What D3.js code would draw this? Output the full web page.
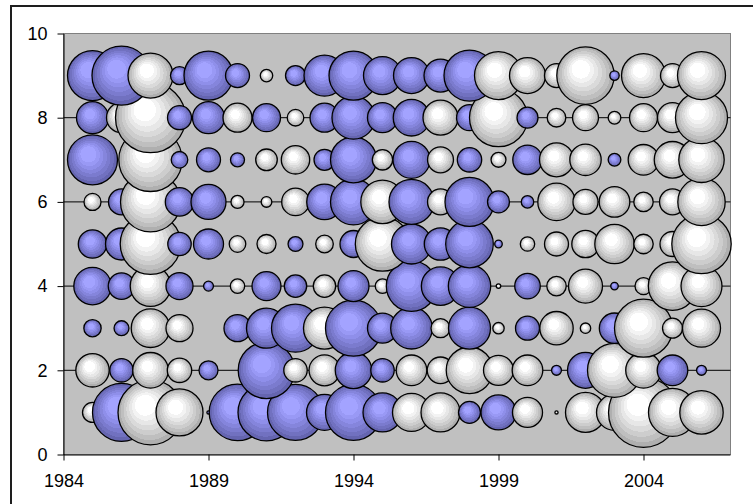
<!DOCTYPE html>
<html>
<head>
<meta charset="utf-8">
<script src="https://cdn.jsdelivr.net/npm/d3@7"></script>
<style>
  body { margin: 0; background: #ffffff; }
  text { font-family: Arial, "Liberation Sans", sans-serif; }
</style>
</head>
<body>
<svg id="chart" width="753" height="504"></svg>
<script>
// Categories along the x axis (one bubble column per year)
const years = [1985, 1986, 1987, 1988, 1989, 1990, 1991, 1992, 1993, 1994, 1995,
               1996, 1997, 1998, 1999, 2000, 2001, 2002, 2003, 2004, 2005, 2006];

// Row levels on the y axis (one series per row, drawn from the bottom row up)
const rowLevels = [1, 2, 3, 4, 5, 6, 7, 8, 9];

// Bubble sizes per row (0 = no bubble), same order as `years`
const bubbleSizes = [
  [7.7, 64.9, 81.5, 42.6, 0.2, 61.8, 62.7, 60.5, 25.0, 60.5, 29.3, 27.9, 29.3, 9.3, 23.6, 17.4, 0.2, 30.9, 25.0, 94.5, 44.4, 36.3],
  [21.5, 10.6, 24.4, 11.5, 7.0, 0, 61.8, 10.6, 18.5, 25.8, 10.6, 18.1, 13.6, 41.9, 17.4, 18.1, 1.9, 25.0, 56.3, 24.4, 18.1, 1.9],
  [5.8, 4.3, 28.7, 14.1, 0, 14.1, 30.9, 44.4, 34.0, 60.5, 17.4, 33.4, 7.0, 34.0, 2.5, 11.1, 21.5, 2.1, 17.8, 64.9, 7.7, 27.9],
  [27.0, 13.6, 31.8, 14.1, 1.9, 4.0, 16.2, 9.7, 9.7, 18.5, 4.1, 49.0, 28.4, 34.7, 0.4, 12.6, 7.3, 22.3, 1.1, 5.6, 45.2, 32.4],
  [15.6, 19.8, 70.8, 10.6, 17.4, 5.3, 7.0, 4.3, 6.0, 14.1, 57.1, 30.9, 20.3, 43.7, 1.1, 4.0, 11.1, 14.5, 29.9, 7.3, 12.1, 68.1],
  [5.6, 13.0, 69.4, 15.6, 23.6, 3.3, 2.2, 14.7, 24.4, 40.8, 36.3, 39.1, 13.0, 46.3, 9.3, 3.0, 27.0, 12.1, 18.1, 7.3, 13.0, 43.3],
  [48.2, 0, 77.5, 5.3, 11.1, 3.8, 9.0, 15.6, 8.5, 40.8, 8.0, 26.4, 13.0, 11.5, 4.3, 16.7, 22.3, 19.0, 3.1, 18.1, 25.8, 39.8],
  [19.8, 17.4, 94.5, 11.1, 19.8, 16.2, 15.1, 5.3, 16.2, 35.7, 17.4, 25.8, 23.6, 13.0, 64.9, 8.5, 6.7, 13.0, 3.1, 15.1, 17.4, 52.2],
  [48.2, 67.2, 39.1, 6.3, 46.3, 11.1, 3.0, 7.7, 32.4, 46.3, 27.9, 25.0, 21.0, 50.2, 44.4, 25.0, 11.1, 63.6, 1.7, 37.3, 11.1, 44.4]
];

// Fill group of each bubble per row: B = blue, W = white, - = none
const bubbleTones = [
  "WBWWBBBBBBBWWBBWWWWWWW",
  "WBWWB-BWWBBWWWWWBBWWBB",
  "BBWW-BBBWBBBWBWBWWBWWW",
  "BBWBBWBBWBWBBBWBWWBWWW",
  "BBWBBWWBWBWBBBBWWWWWWW",
  "WBWBBWWWBBWBWBBBWWWWWW",
  "B-WBBBWWBBWBWBWBWWBWWW",
  "BWWBBWBWBBBBWBWBWWWWWW",
  "BBWBBBWBBBBBBBWWWWBWWW"
];

// Axis tick labels
const xTicks = [1984, 1989, 1994, 1999, 2004];
const yTicks = [0, 2, 4, 6, 8, 10];

// ---- layout ----
const svg = d3.select("#chart");
const plot = { left: 63.5, right: 730.5, top: 33.5, bottom: 454.5 };

const x = d3.scaleLinear().domain([1984, 2007]).range([plot.left, plot.right]);
const y = d3.scaleLinear().domain([0, 10]).range([plot.bottom, plot.top]);
const r = d3.scaleSqrt().domain([0, 100]).range([0, 36]);

// outer chart frame
svg.append("path")
  .attr("d", "M11,504V6H753")
  .attr("fill", "none")
  .attr("stroke", "#1e1e1e")
  .attr("stroke-width", 2);

// banded radial gradients for the two bubble fills
const defs = svg.append("defs");
function bandedGradient(id, bands) {
  const g = defs.append("radialGradient")
    .attr("id", id)
    .attr("cx", 0.5).attr("cy", 0.5).attr("r", 0.5)
    .attr("fx", 0.38).attr("fy", 0.34);
  const first = 0.32;
  const step = (1 - first) / (bands.length - 1);
  bands.forEach((c, i) => {
    const o0 = i === 0 ? 0 : first + (i - 1) * step;
    const o1 = i === 0 ? first : first + i * step;
    g.append("stop").attr("offset", o0).attr("stop-color", c);
    g.append("stop").attr("offset", o1).attr("stop-color", c);
  });
}
bandedGradient("fillBlue", ["#a3a3ff", "#9999f5", "#8f8fea", "#8585dc", "#7b7bce", "#7171c0", "#6565b0"]);
bandedGradient("fillWhite", ["#ffffff", "#f3f3f3", "#e7e7e7", "#dadada", "#cdcdcd", "#bfbfbf", "#afafaf"]);

// plot area
svg.append("rect")
  .attr("x", plot.left).attr("y", plot.top)
  .attr("width", plot.right - plot.left).attr("height", plot.bottom - plot.top)
  .attr("fill", "#c0c0c0")
  .attr("stroke", "#808080")
  .attr("stroke-width", 1);

// horizontal gridlines
svg.append("g")
  .selectAll("line")
  .data(yTicks.filter(v => v > 0 && v < 10))
  .join("line")
  .attr("x1", plot.left).attr("x2", plot.right)
  .attr("y1", d => y(d)).attr("y2", d => y(d))
  .attr("stroke", "#000")
  .attr("stroke-width", 1);

// bubbles: one group per row, drawn bottom row first
const points = [];
rowLevels.forEach((level, i) => {
  years.forEach((yr, j) => {
    const s = bubbleSizes[i][j];
    const t = bubbleTones[i][j];
    if (s > 0 && t !== "-") points.push({ year: yr, level, size: s, tone: t });
  });
});

svg.append("g")
  .selectAll("circle")
  .data(points)
  .join("circle")
  .attr("cx", d => x(d.year))
  .attr("cy", d => y(d.level))
  .attr("r", d => r(d.size))
  .attr("fill", d => d.tone === "B" ? "url(#fillBlue)" : "url(#fillWhite)")
  .attr("stroke", "#000")
  .attr("stroke-width", 1.3);

// axes
const yAxis = svg.append("g")
  .attr("transform", `translate(${plot.left},0)`)
  .call(d3.axisLeft(y).tickValues(yTicks).tickSize(6).tickPadding(10).tickSizeOuter(0).tickFormat(d3.format("d")));
const xAxis = svg.append("g")
  .attr("transform", `translate(0,${plot.bottom})`)
  .call(d3.axisBottom(x).tickValues(xTicks).tickSize(6).tickPadding(14).tickSizeOuter(0).tickFormat(d3.format("d")));

[yAxis, xAxis].forEach(a => {
  a.select(".domain").attr("stroke", "#000").attr("stroke-width", 1);
  a.selectAll(".tick line").attr("stroke", "#000");
  a.selectAll("text")
    .attr("fill", "#000")
    .style("font-size", "18px")
    .style("font-family", "Arial, 'Liberation Sans', sans-serif");
});
// x axis line is drawn across the full plot width
xAxis.select(".domain").attr("d", `M${plot.left},0.5H${plot.right}`);
</script>
</body>
</html>
